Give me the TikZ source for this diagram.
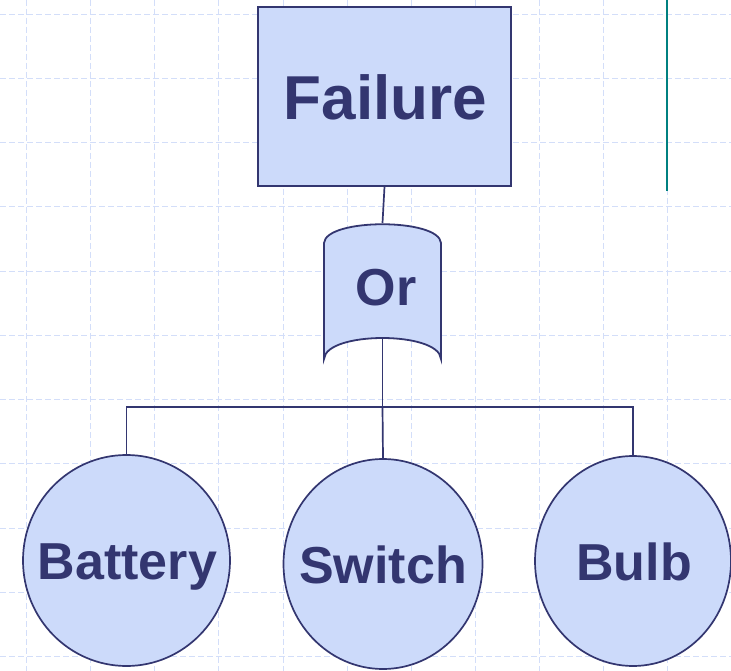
\documentclass[tikz,border=0pt]{standalone}
\usepackage{fontspec}
\setmainfont{Liberation Sans}
\usetikzlibrary{shapes.geometric}
\definecolor{fillblue}{HTML}{CCDAFA}
\definecolor{navy}{HTML}{333670}
\definecolor{gridblue}{HTML}{D3DEF9}
\definecolor{tealline}{HTML}{008080}
\begin{document}
\begin{tikzpicture}[x=1pt,y=-1pt,
  box/.style={draw=navy, fill=fillblue, line width=2pt, inner sep=0pt},
  event/.style={ellipse, draw=navy, fill=fillblue, line width=1.7pt, inner sep=0pt},
  lbl/.style={text=navy, inner sep=0pt, text depth=0pt, font=\bfseries\fontsize{52}{52}\selectfont},
  biglbl/.style={lbl, font=\bfseries\fontsize{62}{62}\selectfont},
  gate/.style={draw=navy, fill=fillblue, line width=1.8pt},
  wire/.style={draw=navy, line width=1.7pt},
  gridline/.style={gridblue, line width=1pt, dash pattern=on 6pt off 3pt}]
\useasboundingbox[fill=white] (0,0) rectangle (731,671);
% background grid
\foreach \x in {26,90,154,218,283,347,411,475,539,603,667}
  \draw[gridline] (\x,0) -- (\x,671);
\foreach \y in {15,79,143,207,271,335,399,463,528,592,656}
  \draw[gridline] (0,\y) -- (731,\y);
% teal rule
\coordinate (tealTop) at (667,0);
\coordinate (tealBot) at (667,191);
\draw[tealline, line width=2.2pt] (tealTop) -- (tealBot);
% top event
\node[box, minimum width=253pt, minimum height=179pt] (failure) at (384.5,96.2) {};
\node[biglbl] (failureText) at (385.5,97.5) {Failure};
% OR gate
\coordinate (orTop) at (382.5,223);
\coordinate (orBot) at (382.5,337);
\path[gate] (324,243) .. controls (326,218) and (439,218) .. (441,243) -- (441,359) .. controls (439,331) and (326,331) .. (324,359) -- cycle;
\node[lbl] (orText) at (386,287.5) {Or};
% basic events
\node[event, minimum width=207pt, minimum height=211pt] (battery) at (126.5,560.5) {};
\node[event, minimum width=199pt, minimum height=210pt] (switch) at (383,564) {};
\node[event, minimum width=196pt, minimum height=210pt] (bulb) at (633,561) {};
\node[lbl] (batteryText) at (127.5,561.5) {Battery};
\node[lbl] (switchText) at (383,565) {Switch};
\node[lbl] (bulbText) at (634,561.7) {Bulb};
% connectors
\coordinate (bus) at (382.5,407);
\draw[wire] (failure.south) -- (orTop);
\draw[wire] (orBot) -- (bus);
\draw[wire] (battery.north) |- (bus) -| (bulb.north);
\draw[wire] (bus) -- (switch.north);
\end{tikzpicture}
\end{document}
